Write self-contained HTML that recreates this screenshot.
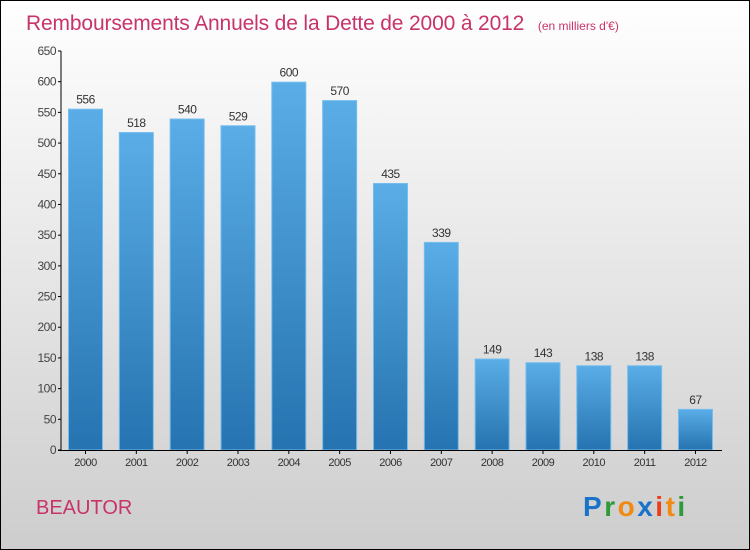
<!DOCTYPE html>
<html><head><meta charset="utf-8"><style>
body{margin:0;width:750px;height:550px;overflow:hidden}
svg{display:block}
text{font-family:"Liberation Sans",sans-serif}
</style></head><body>
<svg width="750" height="550">
<defs>
<linearGradient id="bg" x1="0" y1="0" x2="0" y2="1"><stop offset="0" stop-color="#ffffff"/><stop offset="1" stop-color="#cdcdcd"/></linearGradient>
<linearGradient id="bar" x1="0" y1="0" x2="0" y2="1"><stop offset="0" stop-color="#5aade6"/><stop offset="1" stop-color="#2573b0"/></linearGradient>
</defs>
<rect x="0.5" y="0.5" width="749" height="549" fill="url(#bg)" stroke="#000"/>
<text x="26" y="30" font-size="21" fill="#c8336a" letter-spacing="-0.15">Remboursements Annuels de la Dette de 2000 à 2012 <tspan font-size="12" dx="8" letter-spacing="0">(en milliers d'€)</tspan></text>
<g id="yaxis"></g>
<g id="bars"></g>
<g id="xaxis"></g>
<text x="36" y="514" font-size="20" fill="#c8336a">BEAUTOR</text>
<text x="583" y="516" font-size="28" font-weight="bold" letter-spacing="2.5"><tspan fill="#1a73c9">P</tspan><tspan fill="#2f9a3a">r</tspan><tspan fill="#f08a12">o</tspan><tspan fill="#1a73c9">x</tspan><tspan fill="#e8401c">i</tspan><tspan fill="#f08a12">t</tspan><tspan fill="#2f9a3a">i</tspan></text>
</svg>
<script>
const years=["2000","2001","2002","2003","2004","2005","2006","2007","2008","2009","2010","2011","2012"];
const values=[556,518,540,529,600,570,435,339,149,143,138,138,67];
const yTicks=[0,50,100,150,200,250,300,350,400,450,500,550,600,650];
const NS="http://www.w3.org/2000/svg";
const y0=450,yTop=51,yMax=650,x0=68,pitch=50.83,bw=35;
const Y=v=>y0-(v/yMax)*(y0-yTop);
const X=i=>x0+i*pitch;
function mk(tag,attrs,parent,txt){const e=document.createElementNS(NS,tag);for(const k in attrs)e.setAttribute(k,attrs[k]);if(txt!==undefined)e.textContent=txt;parent.appendChild(e);return e;}
const ya=document.getElementById('yaxis'),ba=document.getElementById('bars'),xa=document.getElementById('xaxis');
let l=mk('line',{x1:61,y1:yTop,x2:61,y2:y0,stroke:'#000'},ya);


yTicks.forEach(t=>{
  const tk=mk('line',{x1:58,x2:61,y1:Y(t),y2:Y(t),stroke:'#000'},ya);
  
  
  const tx=mk('text',{x:56,y:Y(t)+4,'text-anchor':'end','font-size':12,fill:'#444','letter-spacing':'-0.5'},ya,t);
  
  
});
values.forEach((v,i)=>{
  const r=mk('rect',{x:X(i)+0.5,y:Y(v)+0.5,width:bw-1,height:y0-Y(v)-0.5,fill:'url(#bar)',stroke:'#74bdee'},ba);
  
  
  const t=mk('text',{x:X(i)+bw/2,y:Y(v)-5,'text-anchor':'middle','font-size':12,fill:'#333','letter-spacing':'-0.5'},ba,v);
  
  
});
l=mk('line',{x1:58,y1:y0+0.5,x2:722,y2:y0+0.5,stroke:'#000'},xa);


years.forEach((y,i)=>{
  const c=X(i)+bw/2;
  const tk=mk('line',{x1:c,x2:c,y1:y0,y2:y0+4,stroke:'#000'},xa);
  
  
  const t=mk('text',{x:c,y:466,'text-anchor':'middle','font-size':11,fill:'#333','letter-spacing':'-0.5'},xa,y);
  
  
});
</script>
</body></html>
